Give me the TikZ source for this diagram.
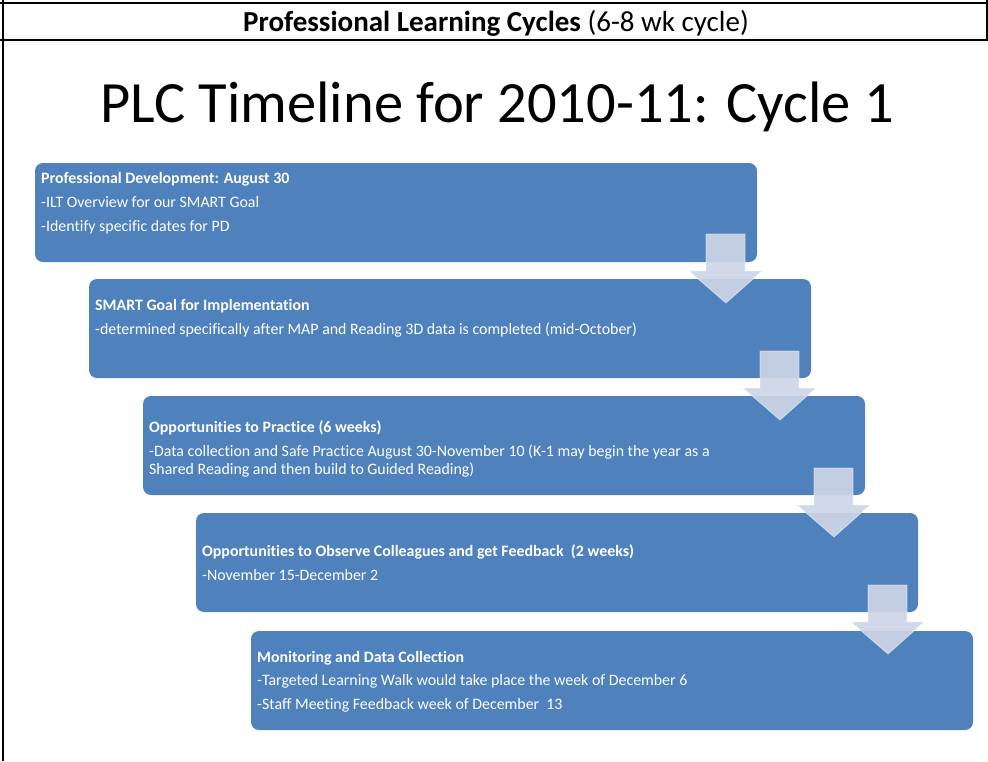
\documentclass[tikz,border=0pt]{standalone}
\usepackage{fontspec}
\setmainfont{Carlito}[Ligatures={NoCommon}]
\definecolor{boxblue}{RGB}{79,129,189}
\definecolor{arrowfill}{RGB}{205,213,231}
\tikzset{
  stagebox/.style={fill=boxblue, rounded corners=8pt, minimum height=99pt, minimum width=722pt, anchor=north west, inner sep=0pt, outer sep=0pt},
  boxhead/.style={anchor=base west, inner sep=0pt, text=white, font=\fontsize{15.9}{19}\selectfont\bfseries},
  boxline/.style={anchor=base west, inner sep=0pt, text=white, font=\fontsize{15.9}{19}\selectfont},
  downarrow/.style={fill=arrowfill, fill opacity=0.92, draw=white, draw opacity=0.5, line width=0.8pt},
  rule/.style={line width=2pt}
}
\begin{document}
\begin{tikzpicture}[x=1pt,y=-1pt]
\useasboundingbox (0,0) rectangle (988,761);
% frame
\coordinate (tl) at (0,2.5); \coordinate (tr) at (988,2.5);
\coordinate (ml) at (0,40); \coordinate (mr) at (988,40);
\coordinate (lt) at (3,0); \coordinate (lb) at (3,761);
\coordinate (rt) at (987,0); \coordinate (rb) at (987,40);
\draw[rule] (tl) -- (tr);
\draw[rule] (ml) -- (mr);
\draw[rule] (lt) -- (lb);
\draw[rule] (rt) -- (rb);
\node[font=\fontsize{29}{34}\selectfont, anchor=base] (hdr) at (496,31) {\textbf{Professional Learning Cycles} (6-8 wk cycle)};
\node[font=\fontsize{58.5}{64}\selectfont, anchor=base] (title) at (497,122) {PLC Timeline for 2010-11: Cycle 1};
% boxes
\node[stagebox] (b1) at (35,163) {};
\node[stagebox] (b2) at (89,279) {};
\node[stagebox] (b3) at (143,396) {};
\node[stagebox] (b4) at (196,513) {};
\node[stagebox] (b5) at (251,631) {};
% texts
\node[boxhead] (t1h) at (41,183) {Professional Development: August 30};
\node[boxline] (t1a) at (41,207) {-ILT Overview for our SMART Goal};
\node[boxline] (t1b) at (41,231) {-Identify specific dates for PD};
\node[boxhead] (t2h) at (95,310) {SMART Goal for Implementation};
\node[boxline] (t2a) at (95,334) {-determined specifically after MAP and Reading 3D data is completed (mid-October)};
\node[boxhead] (t3h) at (149,432) {Opportunities to Practice (6 weeks)};
\node[boxline] (t3a) at (149,456) {-Data collection and Safe Practice August 30-November 10 (K-1 may begin the year as a};
\node[boxline] (t3b) at (149,474) {Shared Reading and then build to Guided Reading)};
\node[boxhead] (t4h) at (202,556) {Opportunities to Observe Colleagues and get Feedback\ \ (2 weeks)};
\node[boxline] (t4a) at (202,580) {-November 15-December 2};
\node[boxhead] (t5h) at (257,662) {Monitoring and Data Collection};
\node[boxline] (t5a) at (257,685) {-Targeted Learning Walk would take place the week of December 6};
\node[boxline] (t5b) at (257,709) {-Staff Meeting Feedback week of December\ \ 13};
% block arrows
\foreach \i in {0,...,3}{
  \draw[downarrow] (706+54*\i,234+117*\i) -- (745+54*\i,234+117*\i) -- (745+54*\i,271+117*\i)
    -- (762+54*\i,271+117*\i) -- (726+54*\i,303+117*\i) -- (689+54*\i,271+117*\i)
    -- (706+54*\i,271+117*\i) -- cycle;
}
\end{tikzpicture}
\end{document}
